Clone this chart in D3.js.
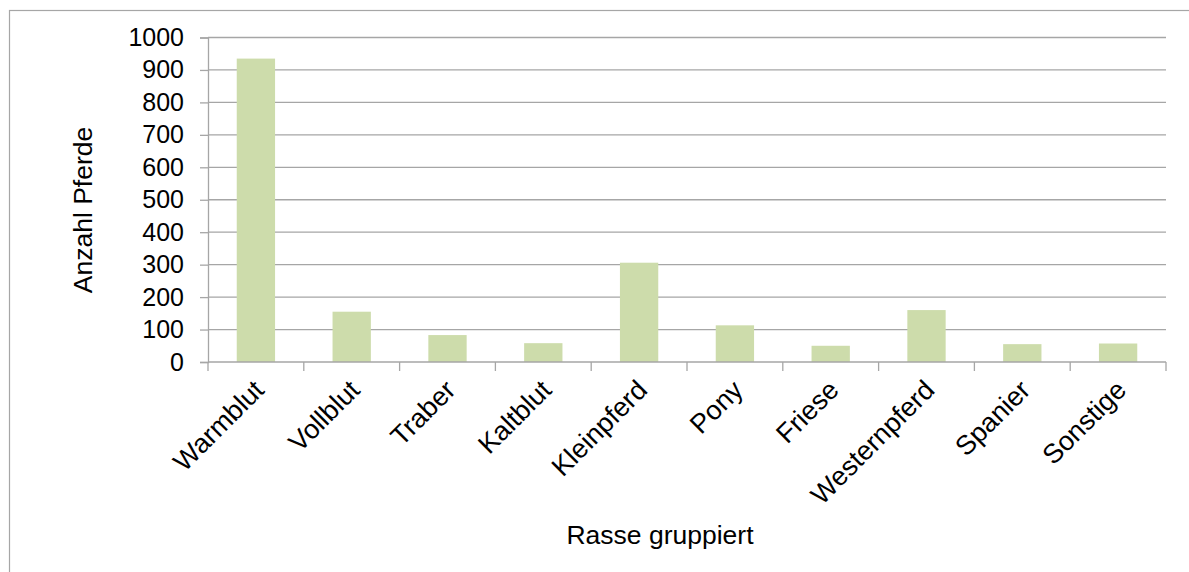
<!DOCTYPE html>
<html>
<head>
<meta charset="utf-8">
<script src="https://cdn.jsdelivr.net/npm/d3@7"></script>
<style>
  html, body { margin: 0; padding: 0; background: #fff; }
  svg { display: block; font-family: "Liberation Sans", Arial, sans-serif; }
</style>
</head>
<body>
<svg id="chart" width="1189" height="572"></svg>
<script>
// Horse breeds (grouped) and number of horses per group
const categories = ["Warmblut", "Vollblut", "Traber", "Kaltblut", "Kleinpferd",
                    "Pony", "Friese", "Westernpferd", "Spanier", "Sonstige"];
const counts = [935, 155, 83, 58, 306, 113, 50, 160, 55, 57];
const yTicks = [0, 100, 200, 300, 400, 500, 600, 700, 800, 900, 1000];
const yTitle = "Anzahl Pferde";
const xTitle = "Rasse gruppiert";

const svg = d3.select("#chart");
const W = 1189, H = 572;
const plot = { left: 208, right: 1166, top: 37.5, bottom: 362 };
const gridColor = "#a6a6a6";
const barColor = "#cddcab";
const tickFont = 25, catFont = 27, titleFont = 26.5;

// chart area frame (extends past the right and bottom edges)
svg.append("rect")
  .attr("x", 9.5).attr("y", 10.5)
  .attr("width", W + 20).attr("height", H + 20)
  .attr("fill", "#fff")
  .attr("stroke", gridColor).attr("stroke-width", 1.2);

const x = d3.scaleBand()
  .domain(categories)
  .range([plot.left, plot.right])
  .paddingInner(0.6)
  .paddingOuter(0.3);

const y = d3.scaleLinear()
  .domain([0, 1000])
  .range([plot.bottom, plot.top]);

// horizontal gridlines
svg.append("g")
  .selectAll("line")
  .data(yTicks.filter(d => d > 0))
  .join("line")
  .attr("x1", plot.left).attr("x2", plot.right)
  .attr("y1", d => y(d)).attr("y2", d => y(d))
  .attr("stroke", gridColor).attr("stroke-width", 1.3);

// bars
svg.append("g")
  .selectAll("rect")
  .data(counts)
  .join("rect")
  .attr("x", (d, i) => x(categories[i]))
  .attr("width", x.bandwidth())
  .attr("y", d => y(d))
  .attr("height", d => y(0) - y(d))
  .attr("fill", barColor);

// y axis
const yAxis = svg.append("g")
  .attr("transform", `translate(${plot.left},0)`)
  .call(d3.axisLeft(y).tickValues(yTicks).tickSize(8).tickPadding(16).tickFormat(d3.format("d")));
yAxis.select(".domain").attr("stroke", gridColor).attr("stroke-width", 1.3);
yAxis.selectAll(".tick line").attr("stroke", gridColor).attr("stroke-width", 1.3);
yAxis.selectAll(".tick text")
  .attr("fill", "#000")
  .style("font-size", tickFont + "px")
  .style("font-family", "Liberation Sans, Arial, sans-serif");

// x axis: baseline with tick marks on the category boundaries
const xAxisG = svg.append("g");
xAxisG.append("line")
  .attr("x1", plot.left).attr("x2", plot.right)
  .attr("y1", y(0)).attr("y2", y(0))
  .attr("stroke", gridColor).attr("stroke-width", 1.3);
const boundaries = d3.range(categories.length + 1)
  .map(i => plot.left + i * (plot.right - plot.left) / categories.length);
xAxisG.selectAll("line.tick")
  .data(boundaries)
  .join("line")
  .attr("class", "tick")
  .attr("x1", d => d).attr("x2", d => d)
  .attr("y1", y(0)).attr("y2", y(0) + 9)
  .attr("stroke", gridColor).attr("stroke-width", 1.3);

// rotated category labels
xAxisG.selectAll("text")
  .data(categories)
  .join("text")
  .attr("transform", d => `translate(${x(d) + x.bandwidth() / 2 + 3},${y(0) + 23}) rotate(-45)`)
  .attr("text-anchor", "end")
  .attr("dy", "0.35em")
  .style("font-size", catFont + "px")
  .attr("fill", "#000")
  .text(d => d);

// axis titles
svg.append("text")
  .attr("transform", `translate(92,210) rotate(-90)`)
  .attr("text-anchor", "middle")
  .style("font-size", titleFont + "px")
  .attr("fill", "#000")
  .text(yTitle);

svg.append("text")
  .attr("x", 660).attr("y", 544)
  .attr("text-anchor", "middle")
  .style("font-size", titleFont + "px")
  .attr("fill", "#000")
  .text(xTitle);
</script>
</body>
</html>
